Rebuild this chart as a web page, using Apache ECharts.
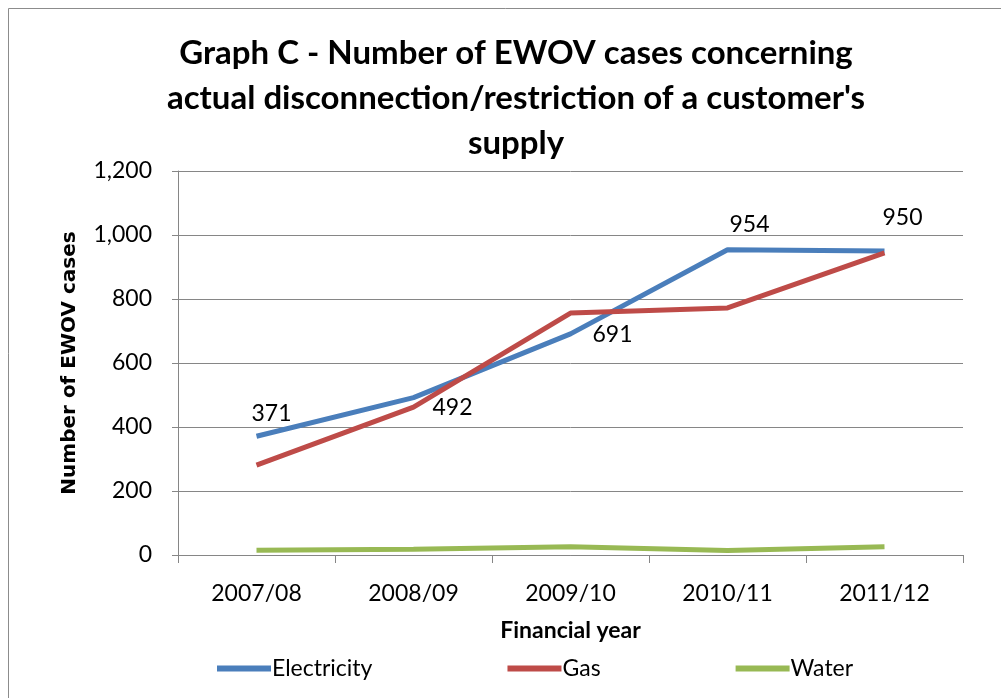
<!DOCTYPE html>
<html>
<head>
<meta charset="utf-8">
<title>ECharts</title>
<script src="https://cdn.jsdelivr.net/npm/echarts@6/dist/echarts.min.js"></script>
</head>
<body style="margin:0">
	<div id="main" style="width: 1001px; height: 698px;"></div>
	<script type="text/javascript">
		var years = ['2007/08', '2008/09', '2009/10', '2010/11', '2011/12'];
		var electricity = [371, 492, 691, 954, 950];
		var gas = [281, 462, 756, 772, 944];
		var water = [15, 18, 26, 14, 26];
		var yTicks = [0, 200, 400, 600, 800, 1000, 1200];

		// label offsets from the point, moved by hand in the original
		var labelOffsets = [[15, -23], [39, 10], [42, 1], [22, -25], [18, -33]];

		var myChart = echarts.init(document.getElementById('main'));
		var font = 'Lato, "Open Sans", sans-serif';

		var elecData = [];
		for (var i = 0; i < electricity.length; i++) {
			elecData.push({
				value: electricity[i],
				label: { offset: labelOffsets[i] }
			});
		}

		option = {
			textStyle: { fontFamily: font },
			graphic: [{
				type: 'rect',
				shape: { x: 8.5, y: 8.5, width: 1000, height: 700 },
				style: { fill: 'none', stroke: '#8c8c8c', lineWidth: 1 }
			}],
			title: {
				text: 'Graph C - Number of EWOV cases concerning\nactual disconnection/restriction of a customer\'s\nsupply',
				left: 511,
				textAlign: 'center',
				top: 26,
				textStyle: { fontFamily: font, fontSize: 33, fontWeight: 'bold', color: '#000', lineHeight: 45 }
			},
			legend: {
				left: 212,
				top: 652,
				itemWidth: 54,
				itemHeight: 6,
				itemGap: 135,
				icon: 'rect',
				textStyle: { fontFamily: font, fontSize: 23, color: '#000', padding: [0, 0, 0, -4] },
				data: ['Electricity', 'Gas', 'Water']
			},
			grid: { left: 178, right: 38, top: 171, bottom: 143 },
			xAxis: {
				type: 'category',
				data: years,
				name: 'Financial year',
				nameLocation: 'middle',
				nameGap: 64,
				nameTextStyle: { fontFamily: font, fontSize: 23, fontWeight: 'bold', color: '#000' },
				axisLine: { lineStyle: { color: '#868686', width: 1 } },
				axisTick: { show: true, length: 8, lineStyle: { color: '#868686' } },
				axisLabel: { fontSize: 23, color: '#000', margin: 27 }
			},
			yAxis: {
				type: 'value',
				min: 0,
				max: 1200,
				interval: 200,
				name: 'Number of EWOV cases',
				nameLocation: 'middle',
				nameGap: 98,
				nameTextStyle: { fontFamily: '"DejaVu Sans", sans-serif', fontSize: 20, fontWeight: 'bold', color: '#000' },
				axisLine: { show: true, lineStyle: { color: '#868686', width: 1 } },
				axisTick: { show: true, length: 6, lineStyle: { color: '#868686' } },
				axisLabel: {
					fontSize: 23, color: '#000', margin: 26,
					formatter: function (v) { return yTicks.indexOf(v) >= 0 ? v.toLocaleString('en-US') : ''; }
				},
				splitLine: { lineStyle: { color: '#868686', width: 1 } }
			},
			series: [{
				name: 'Electricity',
				type: 'line',
				data: elecData,
				symbol: 'circle',
				symbolSize: 0,
				lineStyle: { width: 5, color: '#4a7ebb' },
				itemStyle: { color: '#4a7ebb' },
				label: { show: true, position: 'inside', fontFamily: font, fontSize: 23, color: '#000' },
				z: 3
			}, {
				name: 'Gas',
				type: 'line',
				data: gas,
				symbol: 'none',
				lineStyle: { width: 5, color: '#be4b48' },
				itemStyle: { color: '#be4b48' },
				z: 4
			}, {
				name: 'Water',
				type: 'line',
				data: water,
				symbol: 'none',
				lineStyle: { width: 5, color: '#98b954' },
				itemStyle: { color: '#98b954' },
				z: 2
			}]
		};
		myChart.setOption(option);
	</script>
</body>
</html>
